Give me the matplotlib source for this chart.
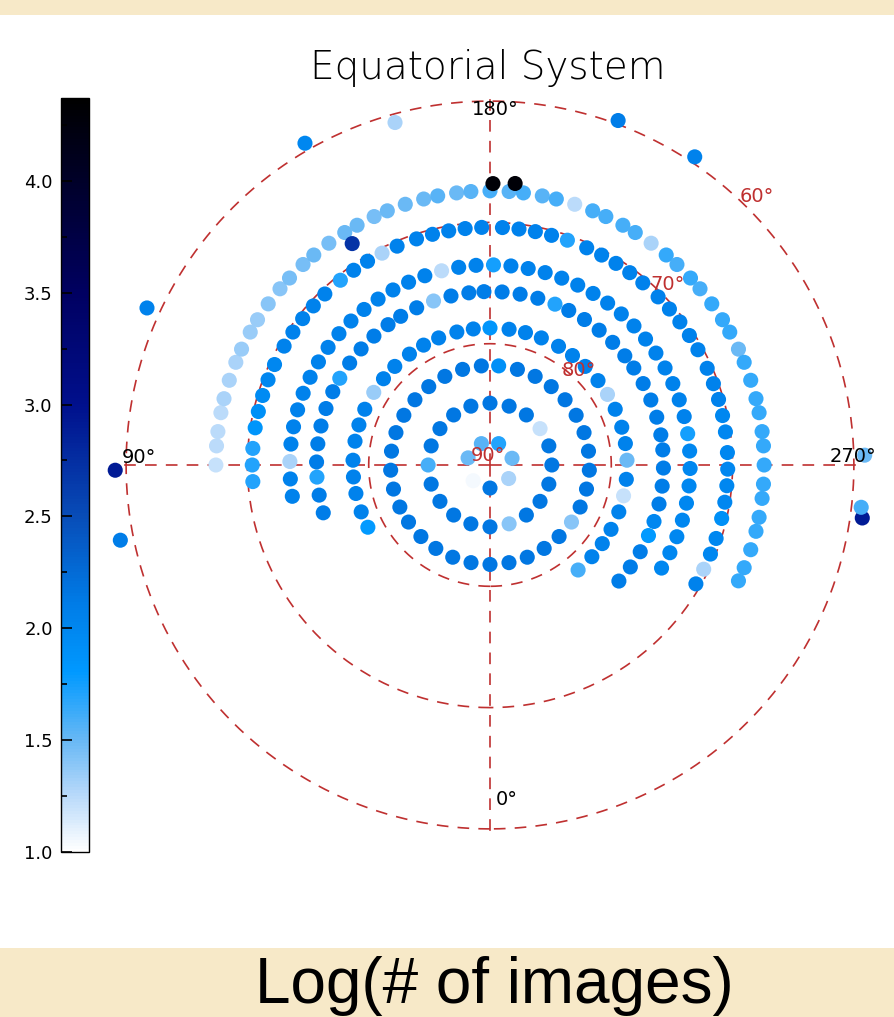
import numpy as np
import matplotlib.pyplot as plt
from matplotlib.colors import LinearSegmentedColormap, Normalize
from matplotlib.patches import Rectangle

# ring declinations (deg) and right ascensions (deg)
dec_a, dec_b, dec_c, dec_d = 67.4, 70.4, 73.5, 75.7
dec_e, dec_f, dec_g, dec_h = 78.7, 81.8, 84.9, 88.1

ra_a = [90, 94, 97, 101, 104, 108, 112, 115, 119, 122, 126, 130, 133, 137, 140, 144, 148, 151, 155, 158,
        162, 166, 169, 173, 176, 180, 184, 187, 191, 194, 198, 202, 205, 209, 212, 216, 220, 223, 227, 230,
        234, 238, 241, 245, 248, 252, 256, 259, 263, 266, 270, 274, 277, 281, 284, 288, 292, 295]
val_a = [1.2, 1.25, 1.25, 1.25, 1.3, 1.3, 1.3, 1.35, 1.35, 1.35, 1.4, 1.4, 1.45, 1.45, 1.5, 1.45, 1.5, 1.5, 1.45, 1.5,
         1.5, 1.5, 1.55, 1.5, 1.55, 1.6, 1.55, 1.6, 1.55, 1.6, 1.25, 1.6, 1.6, 1.6, 1.6, 1.3, 1.65, 1.6, 1.65, 1.6,
         1.65, 1.65, 1.65, 1.5, 1.65, 1.65, 1.65, 1.65, 1.65, 1.65, 1.65, 1.65, 1.65, 1.65, 1.65, 1.65, 1.65, 1.65]

ra_b = [86, 90, 94, 99, 103, 107, 111, 115, 120, 124, 128, 132, 136, 141, 145, 149, 153, 157, 162, 166,
        170, 174, 178, 183, 187, 191, 195, 199, 204, 208, 212, 216, 220, 225, 229, 233, 237, 241, 246, 250,
        254, 258, 262, 267, 271, 275, 279, 283, 288, 292, 296, 300]
val_b = [1.7, 1.7, 1.7, 1.85, 1.9, 1.95, 2.0, 2.0, 2.05, 2.05, 2.05, 2.05, 2.05, 1.7, 2.05, 2.05, 1.3, 2.05, 2.05, 2.05,
         2.05, 2.05, 2.05, 2.05, 2.05, 2.05, 2.05, 1.7, 2.05, 2.05, 2.05, 2.05, 2.05, 2.05, 2.05, 2.05, 2.05, 2.05, 2.05, 2.05,
         2.05, 2.0, 2.0, 2.0, 2.0, 2.0, 2.0, 1.9, 2.0, 2.0, 1.3, 2.05]

ra_c = [81, 86, 91, 96, 101, 106, 111, 116, 121, 126, 131, 136, 141, 146, 151, 156, 161, 166, 171, 176,
        181, 186, 191, 196, 201, 206, 211, 216, 221, 226, 231, 236, 241, 246, 251, 256, 261, 266, 271, 276,
        281, 286, 291, 296, 301]
val_c = [2.05, 2.05, 1.3, 2.05, 2.05, 2.05, 2.05, 2.05, 2.05, 2.05, 2.05, 2.05, 2.05, 2.05, 2.05, 2.05, 2.05, 1.25, 2.05, 2.05,
         1.75, 2.05, 2.05, 2.05, 2.05, 2.05, 2.05, 2.05, 2.05, 2.05, 2.05, 2.05, 2.05, 2.05, 2.05, 2.05, 1.75, 2.0, 2.0, 2.0,
         2.0, 2.0, 2.0, 2.0, 2.0]

ra_d = [74, 80, 86, 91, 97, 103, 109, 115, 120, 126, 132, 138, 144, 149, 155, 161, 167, 173, 178, 184,
        190, 196, 202, 207, 213, 219, 225, 231, 236, 242, 248, 254, 260, 265, 271, 277, 283, 289, 294, 300,
        306, 312]
val_d = [2.1, 2.1, 1.7, 2.1, 2.1, 2.1, 2.1, 2.1, 1.7, 2.1, 2.1, 2.1, 2.1, 2.1, 2.1, 1.4, 2.1, 2.1, 2.1, 2.1,
         2.1, 2.1, 1.7, 2.1, 2.1, 2.1, 2.1, 2.1, 2.1, 2.1, 2.1, 2.1, 2.1, 2.1, 2.1, 2.1, 2.1, 2.0, 1.8, 2.1,
         2.1, 2.1]

ra_e = [63, 70, 78, 85, 92, 100, 107, 114, 122, 129, 136, 144, 151, 158, 166, 173, 180, 188, 195, 202,
        210, 217, 224, 232, 239, 246, 254, 261, 268, 276, 283, 290, 298, 305, 312, 320]
val_e = [1.8, 2.05, 2.05, 2.05, 2.05, 2.05, 2.05, 2.05, 1.35, 2.05, 2.05, 2.05, 2.05, 2.05, 2.05, 2.05, 1.85, 2.05, 2.05, 2.05,
         2.05, 2.05, 2.05, 2.05, 1.3, 2.05, 2.05, 2.05, 1.5, 2.05, 1.2, 2.05, 2.05, 2.05, 2.05, 1.6]

ra_f = [0, 11, 22, 33, 44, 55, 65, 76, 87, 98, 109, 120, 131, 142, 153, 164, 175, 185, 196, 207,
        218, 229, 240, 251, 262, 273, 284, 295, 305, 316, 327, 338, 349]
val_f = [2.15, 2.15, 2.15, 2.15, 2.15, 2.15, 2.15, 2.15, 2.15, 2.15, 2.15, 2.15, 2.15, 2.15, 2.15, 2.15, 2.15, 1.9, 2.15, 2.15,
         2.15, 2.15, 2.15, 2.15, 2.15, 2.15, 2.15, 2.15, 1.4, 2.15, 2.15, 2.15, 2.15]

ra_g = [0, 18, 36, 54, 72, 90, 108, 126, 144, 162, 180, 198, 216, 234, 252, 270, 288, 306, 324, 342]
val_g = [2.15, 2.15, 2.15, 2.15, 2.15, 1.6, 2.15, 2.15, 2.15, 2.15, 2.15, 2.15, 2.15, 1.2, 2.15, 2.15, 2.15, 2.15, 2.15, 1.4]

ra_h = [0, 47, 108, 158, 202, 253, 306]
val_h = [2.15, 1.05, 1.5, 1.55, 1.7, 1.5, 1.3]

# isolated pointings
ra_x = [164.5, 150.1, 200.4, 213.6, 114.6, 78.5, 89.2, 278.1, 276.5, 268.5, 180.6, 185.1, 148.1]
dec_x = [60.7, 59.4, 59.7, 59.5, 58.9, 58.9, 59.1, 59.0, 59.2, 59.1, 66.8, 66.7, 68.5]
val_x = [1.3, 2.0, 2.1, 2.05, 2.05, 2.1, 2.9, 2.9, 1.6, 1.5, 4.3, 4.3, 2.7]

grid_decs = [80, 70, 60]
grid_ras = [0, 90, 180, 270]

cmap = LinearSegmentedColormap.from_list("eq", [
    (0.0, (1.0, 1.0, 1.0)),
    ((1.25 - 1) / 3.37, (0.72, 0.85, 0.98)),
    ((1.5 - 1) / 3.37, (0.40, 0.72, 0.96)),
    ((1.8 - 1) / 3.37, (0.0, 0.60, 1.0)),
    ((2.1 - 1) / 3.37, (0.0, 0.49, 0.91)),
    ((2.5 - 1) / 3.37, (0.03, 0.30, 0.72)),
    ((3.0 - 1) / 3.37, (0.0, 0.06, 0.55)),
    ((3.5 - 1) / 3.37, (0.0, 0.0, 0.38)),
    (1.0, (0.0, 0.0, 0.0)),
])
norm = Normalize(vmin=1.0, vmax=4.37)

W, H = 895, 1017
fig = plt.figure(figsize=(W / 100, H / 100), dpi=100, facecolor="#f7e9c8")
fig.patches.append(Rectangle((0, (H - 948) / H), 1, (948 - 15) / H, transform=fig.transFigure,
                             facecolor="white", edgecolor="none", zorder=-5))

rmax = 32.0
R = rmax * 12.13
cx, cy = 490, H - 465
ax = fig.add_axes([(cx - R) / W, (cy - R) / H, 2 * R / W, 2 * R / H], projection="polar")
ax.set_theta_zero_location("S")
ax.set_theta_direction(-1)
ax.set_rlim(0, rmax)
ax.axis("off")

red = "#bf3030"
dash = (0, (7, 5.5))
th = np.linspace(0, 2 * np.pi, 721)
for d in grid_decs:
    ax.plot(th, np.full_like(th, 90 - d), color=red, lw=1.2, ls=dash, zorder=1)
for a in grid_ras:
    ax.plot([np.radians(a)] * 2, [0, 30.3], color=red, lw=1.2, ls=dash, zorder=1)

rings = [(dec_a, ra_a, val_a), (dec_b, ra_b, val_b), (dec_c, ra_c, val_c), (dec_d, ra_d, val_d),
         (dec_e, ra_e, val_e), (dec_f, ra_f, val_f), (dec_g, ra_g, val_g), (dec_h, ra_h, val_h)]
for dec, ras, vals in rings:
    ax.scatter(np.radians(ras), np.full(len(ras), 90 - dec), c=vals, cmap=cmap, norm=norm,
               s=118, marker="o", linewidths=0, zorder=3, clip_on=False)
sc = ax.scatter(np.radians(ra_x), 90 - np.array(dec_x), c=val_x, cmap=cmap, norm=norm,
                s=118, marker="o", linewidths=0, zorder=3, clip_on=False)

lab = dict(fontsize=14, ha="center", va="center", zorder=5)
ax.text(np.radians(180.8), 29.35, "180°", color="black", **lab)
ax.text(np.radians(357.1), 27.65, "0°", color="black", **lab)
ax.text(np.radians(91.3), 28.94, "90°", color="black", **lab)
ax.text(np.radians(268.7), 29.93, "270°", color="black", **lab)
ax.text(np.radians(167.5), 0.76, "90°", color=red, **lab)
ax.text(np.radians(223.4), 10.68, "80°", color=red, **lab)
ax.text(np.radians(224.4), 20.87, "70°", color=red, **lab)
ax.text(np.radians(224.9), 31.2, "60°", color=red, **lab)

cax = fig.add_axes([61 / W, (H - 852) / H, 28 / W, 754 / H])
cb = fig.colorbar(sc, cax=cax)
cb.set_ticks([1.0, 1.5, 2.0, 2.5, 3.0, 3.5, 4.0])
cb.set_ticklabels(["1.0", "1.5", "2.0", "2.5", "3.0", "3.5", "4.0"])
cax.yaxis.set_ticks_position("left")
cax.yaxis.set_label_position("left")
cax.set_yticks([1.25, 1.75, 2.25, 2.75, 3.25, 3.75, 4.25], minor=True)
cax.tick_params(which="major", direction="in", length=8, width=1.2, labelsize=13, pad=6)
cax.tick_params(which="minor", direction="in", length=4, width=1.2)
cb.outline.set_linewidth(1.0)

fig.text(488 / W, (H - 68) / H, "Equatorial System", fontsize=28, ha="center", va="center",
         fontweight="light")
fig.text(494 / W, (H - 986) / H, "Log(# of images)", fontsize=46, ha="center", va="center",
         family="Liberation Sans")

fig.savefig("out.png", dpi=100, facecolor=fig.get_facecolor())
